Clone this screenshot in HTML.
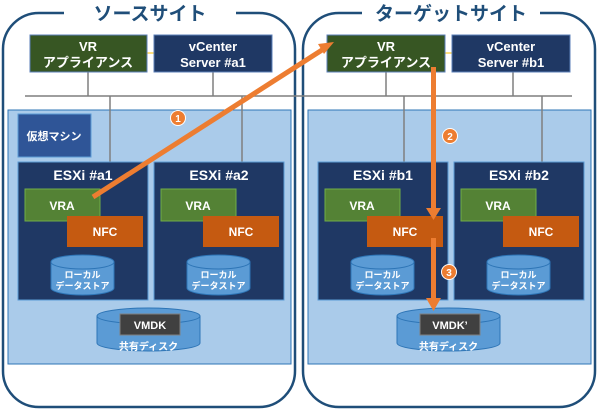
<!DOCTYPE html>
<html><head><meta charset="utf-8"><style>
html,body{margin:0;padding:0;background:#fff;}
svg{display:block;}
text{font-family:"Liberation Sans","Noto Sans CJK JP",sans-serif;font-weight:bold;}
</style></head><body>
<svg width="600" height="412" viewBox="0 0 600 412" xmlns="http://www.w3.org/2000/svg">
<rect x="3" y="13" width="292" height="394" rx="36" fill="#fff" stroke="#1f4e79" stroke-width="2.5"/>
<rect x="303" y="13" width="292" height="394" rx="36" fill="#fff" stroke="#1f4e79" stroke-width="2.5"/>
<rect x="64" y="4" width="172" height="20" fill="#fff"/>
<rect x="362" y="4" width="178" height="20" fill="#fff"/>
<text x="150" y="20" font-size="19" fill="#1f4e79" text-anchor="middle" font-weight="normal">ソースサイト</text>
<text x="451" y="20" font-size="19" fill="#1f4e79" text-anchor="middle" font-weight="normal">ターゲットサイト</text>

<rect x="8" y="110" width="283" height="254" fill="#aacbea" stroke="#2e75b6" stroke-width="1"/>
<rect x="308" y="110" width="283" height="254" fill="#aacbea" stroke="#2e75b6" stroke-width="1"/>

<g stroke="#7f7f7f" stroke-width="1.5">
<line x1="25" y1="96" x2="572" y2="96"/>
<line x1="88" y1="72" x2="88" y2="96"/>
<line x1="213" y1="72" x2="213" y2="96"/>
<line x1="110" y1="96" x2="110" y2="162"/>
<line x1="242" y1="96" x2="242" y2="162"/>
<line x1="386" y1="72" x2="386" y2="96"/>
<line x1="513" y1="72" x2="513" y2="96"/>
<line x1="404" y1="96" x2="404" y2="162"/>
<line x1="542" y1="96" x2="542" y2="162"/>
</g>
<line x1="147" y1="53" x2="154" y2="53" stroke="#ffc000" stroke-width="1"/>
<line x1="445" y1="53" x2="452" y2="53" stroke="#ffc000" stroke-width="1"/>

<rect x="30" y="35" width="117" height="37" fill="#375623" stroke="#5b7fb8" stroke-width="1"/>
<text x="88" y="51" font-size="13" fill="#fff" text-anchor="middle">VR</text>
<text x="88" y="67" font-size="13" fill="#fff" text-anchor="middle">アプライアンス</text>
<rect x="154" y="35" width="118" height="37" fill="#1f3864" stroke="#5b7fb8" stroke-width="1"/>
<text x="213" y="51" font-size="13" fill="#fff" text-anchor="middle">vCenter</text>
<text x="213" y="67" font-size="13" fill="#fff" text-anchor="middle">Server #a1</text>
<rect x="327" y="35" width="118" height="37" fill="#375623" stroke="#5b7fb8" stroke-width="1"/>
<text x="386" y="51" font-size="13" fill="#fff" text-anchor="middle">VR</text>
<text x="386" y="67" font-size="13" fill="#fff" text-anchor="middle">アプライアンス</text>
<rect x="452" y="35" width="118" height="37" fill="#1f3864" stroke="#5b7fb8" stroke-width="1"/>
<text x="511" y="51" font-size="13" fill="#fff" text-anchor="middle">vCenter</text>
<text x="511" y="67" font-size="13" fill="#fff" text-anchor="middle">Server #b1</text>

<rect x="18" y="114" width="73" height="43" fill="#2f5597" stroke="#5b9bd5" stroke-width="1"/>
<text x="54" y="140" font-size="11" fill="#fff" text-anchor="middle">仮想マシン</text>

<rect x="18" y="162" width="130" height="138" fill="#1f3864" stroke="#5b9bd5" stroke-width="1"/>
<text x="83" y="180" font-size="14" fill="#fff" text-anchor="middle">ESXi #a1</text>
<rect x="154" y="162" width="130" height="138" fill="#1f3864" stroke="#5b9bd5" stroke-width="1"/>
<text x="219" y="180" font-size="14" fill="#fff" text-anchor="middle">ESXi #a2</text>
<rect x="318" y="162" width="130" height="138" fill="#1f3864" stroke="#5b9bd5" stroke-width="1"/>
<text x="383" y="180" font-size="14" fill="#fff" text-anchor="middle">ESXi #b1</text>
<rect x="454" y="162" width="130" height="138" fill="#1f3864" stroke="#5b9bd5" stroke-width="1"/>
<text x="519" y="180" font-size="14" fill="#fff" text-anchor="middle">ESXi #b2</text>

<g id="h1">
<rect x="25" y="189" width="75" height="32" fill="#548235" stroke="#70ad47" stroke-width="1"/>
<text x="62" y="210" font-size="12" fill="#fff" text-anchor="middle">VRA</text>
<rect x="67" y="216" width="76" height="31" fill="#c55a11"/>
<text x="105" y="236" font-size="12" fill="#fff" text-anchor="middle">NFC</text>
<path d="M51 262 V288 A31.5 7 0 0 0 114 288 V262" fill="#5b9bd5" stroke="#2e75b6"/>
<ellipse cx="82.5" cy="262" rx="31.5" ry="7" fill="#5b9bd5" stroke="#2e75b6"/>
<text x="82.5" y="278" font-size="9" fill="#fff" text-anchor="middle">ローカル</text>
<text x="82.5" y="289" font-size="9" fill="#fff" text-anchor="middle">データストア</text>
</g>
<use href="#h1" x="136"/>
<use href="#h1" x="300"/>
<use href="#h1" x="436"/>

<g id="sd">
<path d="M97 316 V343 A51.5 8 0 0 0 200 343 V316" fill="#5b9bd5" stroke="#2e75b6"/>
<ellipse cx="148.5" cy="316" rx="51.5" ry="8" fill="#5b9bd5" stroke="#2e75b6"/>
<text x="148.5" y="350" font-size="10" fill="#fff" text-anchor="middle">共有ディスク</text>
</g>
<use href="#sd" x="300"/>
<rect x="120" y="314" width="60" height="21" fill="#404040" stroke="#7f7f7f"/>
<text x="150" y="329" font-size="11" fill="#fff" text-anchor="middle" font-weight="normal">VMDK</text>
<rect x="420" y="314" width="60" height="21" fill="#404040" stroke="#7f7f7f"/>
<text x="450" y="329" font-size="11" fill="#fff" text-anchor="middle" font-weight="normal">VMDK’</text>

<g fill="#ed7d31" stroke="none">
<line x1="93" y1="197" x2="322" y2="50" stroke="#ed7d31" stroke-width="5"/>
<polygon points="334,42 318,44 324,54"/>
<rect x="431" y="67" width="5" height="143"/>
<polygon points="426,208 441,208 433.5,220"/>
<rect x="431" y="238" width="5" height="62"/>
<polygon points="426,298 441,298 433.5,311"/>
</g>
<g font-size="10" text-anchor="middle">
<circle cx="178" cy="118" r="7.5" fill="#ed7d31" stroke="#fff" stroke-width="1"/>
<text x="178" y="122" fill="#fff">1</text>
<circle cx="450" cy="136" r="7.5" fill="#ed7d31" stroke="#fff" stroke-width="1"/>
<text x="450" y="140" fill="#fff">2</text>
<circle cx="449" cy="272" r="7.5" fill="#ed7d31" stroke="#fff" stroke-width="1"/>
<text x="449" y="276" fill="#fff">3</text>
</g>
</svg>
</body></html>
